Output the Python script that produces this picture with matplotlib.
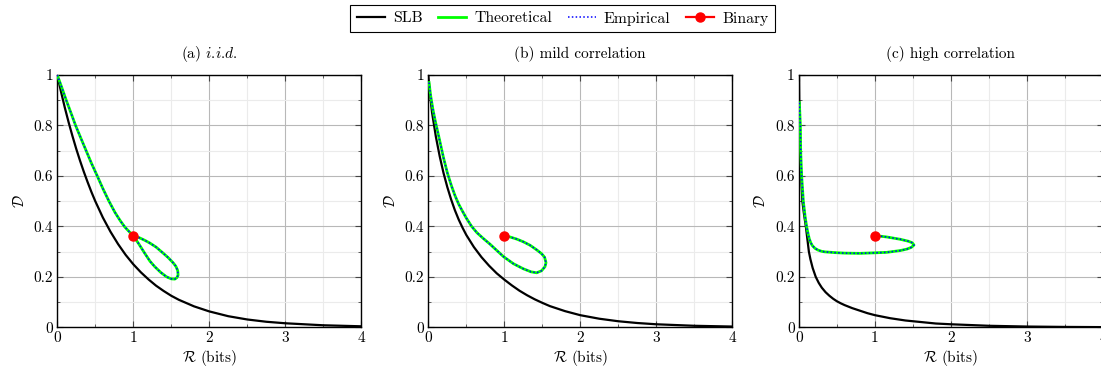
import numpy as np
import matplotlib
matplotlib.use("Agg")
import matplotlib.pyplot as plt
from matplotlib.ticker import MultipleLocator, FuncFormatter

plt.rcParams['font.family'] = 'serif'
plt.rcParams['font.serif'] = ['cmr10']
plt.rcParams['mathtext.fontset'] = 'cm'
plt.rcParams['axes.formatter.use_mathtext'] = True
plt.rcParams['font.size'] = 10

# ---- data: (R, D) pairs ----
# (a) i.i.d.
slb_a_R = [0, 0.05, 0.1, 0.15, 0.2, 0.25, 0.3, 0.35, 0.4, 0.45, 0.5, 0.6, 0.7, 0.8,
           0.9, 1.0, 1.1, 1.2, 1.3, 1.4, 1.5, 1.6, 1.8, 2.0, 2.25, 2.5, 2.75, 3.0,
           3.5, 4.0]
slb_a_D = [1.0, 0.933, 0.87, 0.812, 0.758, 0.707, 0.66, 0.616, 0.575, 0.536, 0.50,
           0.435, 0.379, 0.33, 0.287, 0.25, 0.218, 0.19, 0.165, 0.144, 0.125, 0.109,
           0.083, 0.063, 0.044, 0.031, 0.022, 0.016, 0.008, 0.004]
theo_a_R = [0.0, 0.06, 0.118, 0.18, 0.241, 0.31, 0.38, 0.45, 0.526, 0.60, 0.68, 0.76,
            0.83, 0.89, 0.95, 1.0, 1.07, 1.152, 1.22, 1.284, 1.36, 1.438, 1.50, 1.547,
            1.575, 1.59, 1.585, 1.56, 1.524, 1.46, 1.393, 1.30, 1.218, 1.15, 1.087,
            1.04, 1.0]
theo_a_D = [1.0, 0.95, 0.90, 0.85, 0.80, 0.75, 0.70, 0.65, 0.60, 0.55, 0.50, 0.455,
            0.422, 0.397, 0.378, 0.363, 0.332, 0.293, 0.262, 0.240, 0.218, 0.200,
            0.192, 0.191, 0.197, 0.207, 0.225, 0.242, 0.256, 0.276, 0.294, 0.318,
            0.334, 0.345, 0.354, 0.360, 0.363]

# (b) mild correlation
slb_b_R = [0, 0.02, 0.05, 0.1, 0.15, 0.2, 0.25, 0.3, 0.35, 0.4, 0.45, 0.5, 0.6, 0.7,
           0.8, 0.9, 1.0, 1.1, 1.2, 1.3, 1.4, 1.5, 1.6, 1.8, 2.0, 2.25, 2.5, 2.75,
           3.0, 3.5, 4.0]
slb_b_D = [1.0, 0.93, 0.85, 0.755, 0.678, 0.612, 0.556, 0.507, 0.464, 0.427, 0.395,
           0.366, 0.318, 0.278, 0.244, 0.214, 0.189, 0.166, 0.145, 0.127, 0.111,
           0.097, 0.084, 0.064, 0.048, 0.034, 0.024, 0.017, 0.012, 0.006, 0.003]
theo_b_R = [0.01, 0.03, 0.06, 0.09, 0.12, 0.15, 0.2, 0.25, 0.3, 0.35, 0.4, 0.45, 0.5,
            0.57, 0.64, 0.72, 0.81, 0.90, 0.99, 1.12, 1.25, 1.35, 1.426, 1.49, 1.535,
            1.549, 1.53, 1.49, 1.426, 1.34, 1.25, 1.16, 1.075, 1.0]
theo_b_D = [0.97, 0.92, 0.865, 0.82, 0.78, 0.74, 0.672, 0.613, 0.565, 0.523, 0.488,
            0.46, 0.433, 0.40, 0.375, 0.353, 0.33, 0.305, 0.28, 0.252, 0.232, 0.220,
            0.216, 0.224, 0.240, 0.256, 0.278, 0.292, 0.307, 0.325, 0.339, 0.350,
            0.358, 0.363]

# (c) high correlation
slb_c_R = [0, 0.003, 0.008, 0.015, 0.028, 0.044, 0.065, 0.09, 0.11, 0.13, 0.15, 0.18,
           0.22, 0.26, 0.3, 0.35, 0.4, 0.45, 0.5, 0.55, 0.6, 0.7, 0.8, 0.9, 1.0, 1.2,
           1.4, 1.6, 1.8, 2.0, 2.5, 3.0, 3.5, 4.0]
slb_c_D = [1.0, 0.9, 0.8, 0.7, 0.6, 0.5, 0.45, 0.40, 0.35, 0.30, 0.27, 0.235, 0.20,
           0.176, 0.157, 0.139, 0.125, 0.113, 0.103, 0.095, 0.088, 0.076, 0.066,
           0.056, 0.048, 0.036, 0.027, 0.021, 0.015, 0.012, 0.006, 0.003, 0.0015,
           0.0007]
theo_c_R = [0.005, 0.018, 0.022, 0.035, 0.057, 0.08, 0.10, 0.12, 0.136, 0.155, 0.175,
            0.21, 0.25, 0.3, 0.34, 0.47, 0.60, 0.80, 0.98, 1.154, 1.33, 1.42, 1.48,
            1.513, 1.49, 1.44, 1.33, 1.154, 1.07, 1.0]
theo_c_D = [0.89, 0.80, 0.70, 0.60, 0.50, 0.44, 0.40, 0.37, 0.35, 0.335, 0.324,
            0.313, 0.306, 0.301, 0.299, 0.296, 0.294, 0.293, 0.295, 0.297, 0.304,
            0.31, 0.317, 0.326, 0.335, 0.341, 0.349, 0.358, 0.361, 0.363]

# empirical curves coincide with the theoretical ones
emp_a_R, emp_a_D = theo_a_R, theo_a_D
emp_b_R, emp_b_D = theo_b_R, theo_b_D
emp_c_R, emp_c_D = theo_c_R, theo_c_D

binary_R = [1.0]
binary_D = [0.363]

titles = [r'(a) $i$.$i$.$d$.', '(b) mild correlation', '(c) high correlation']
panels = [
    (slb_a_R, slb_a_D, theo_a_R, theo_a_D, emp_a_R, emp_a_D),
    (slb_b_R, slb_b_D, theo_b_R, theo_b_D, emp_b_R, emp_b_D),
    (slb_c_R, slb_c_D, theo_c_R, theo_c_D, emp_c_R, emp_c_D),
]

fig = plt.figure(figsize=(11.01, 3.70), dpi=100)
lefts = [0.0520, 0.3890, 0.7257]
w, h, b = 0.2761, 0.682, 0.1154

fmt = FuncFormatter(lambda v, p: '%g' % round(v, 3))
for i, (sR, sD, tR, tD, eR, eD) in enumerate(panels):
    ax = fig.add_axes([lefts[i], b, w, h])
    ax.plot(sR, sD, color='black', lw=1.6, label='SLB', zorder=3)
    ax.plot(tR, tD, color='#00ff00', lw=2.0, label='Theoretical', zorder=4)
    ax.plot(eR, eD, color='blue', lw=1.1, ls=(0, (1, 1.5)), label='Empirical', zorder=5)
    ax.plot(binary_R, binary_D, '-o', color='red', ms=6.5, lw=1.6, label='Binary', zorder=6)
    ax.set_xlim(0, 4)
    ax.set_ylim(0, 1)
    ax.xaxis.set_major_locator(MultipleLocator(1))
    ax.xaxis.set_minor_locator(MultipleLocator(0.5))
    ax.yaxis.set_major_locator(MultipleLocator(0.2))
    ax.yaxis.set_minor_locator(MultipleLocator(0.1))
    ax.xaxis.set_major_formatter(fmt)
    ax.yaxis.set_major_formatter(fmt)
    ax.grid(which='major', color='#b8b8b8', lw=0.8)
    ax.grid(which='minor', color='#ebebeb', lw=0.8)
    ax.set_axisbelow(True)
    ax.tick_params(which='both', direction='in', top=True, right=True, color='#444444')
    ax.tick_params(which='major', length=4, labelsize=11, pad=3)
    ax.tick_params(which='minor', length=2)
    for sp in ax.spines.values():
        sp.set_linewidth(1.0)
    ax.set_xlabel(r'$\mathcal{R}$ (bits)', fontsize=11, labelpad=2)
    ax.set_ylabel(r'$\mathcal{D}$', fontsize=11, labelpad=5)
    ax.set_title(titles[i], fontsize=11, pad=12)
    if i == 0:
        handles, labels = ax.get_legend_handles_labels()

fig.legend(handles, labels, loc='center', bbox_to_anchor=(0.511, 0.95), ncol=4,
           frameon=True, fancybox=False, edgecolor='black', fontsize=11.3,
           handlelength=1.8, handletextpad=0.5, columnspacing=1.0,
           borderpad=0.4, framealpha=1)
legend = fig.legends[0]
legend.get_frame().set_linewidth(0.8)

fig.savefig('out.png', dpi=100)
